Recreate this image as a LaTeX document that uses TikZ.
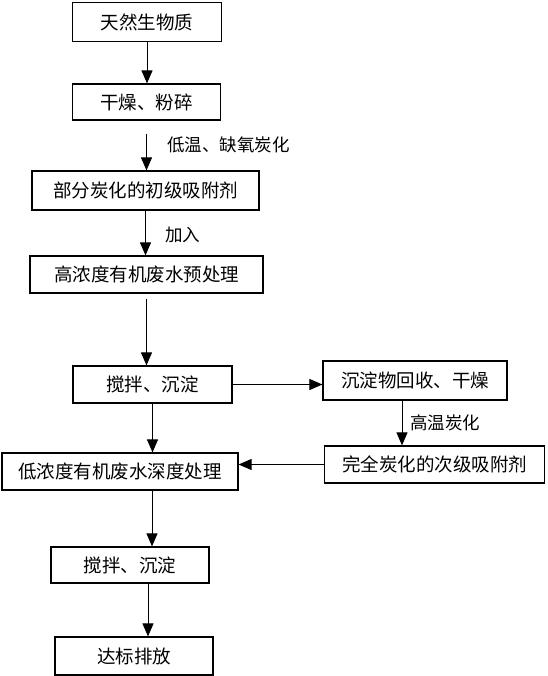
\documentclass[tikz,border=0pt]{standalone}
\usepackage{fontspec}
\newfontfamily\cjk{Noto Sans CJK SC}
\usetikzlibrary{arrows.meta}
\tikzset{
  box/.style={draw, line width=1.2pt, inner sep=0pt, font=\cjk\fontsize{18.5}{20}\selectfont},
  arr/.style={line width=1pt, -{Triangle[length=13pt,width=11pt]}},
  lbl/.style={anchor=west, inner sep=0pt, font=\cjk\fontsize{17.5}{20}\selectfont}
}
\begin{document}
\begin{tikzpicture}[x=1pt, y=-1pt]
            \useasboundingbox (0,0) rectangle (547,676);
            % Nodes
            \node[box, minimum width=149pt, minimum height=39pt] (n1) at (147, 22) {天然生物质};
            \node[box, minimum width=148pt, minimum height=36pt] (n2) at (146.5, 102) {干燥、粉碎};
            \node[box, minimum width=227pt, minimum height=39pt] (n3) at (145.5, 190.5) {部分炭化的初级吸附剂};
            \node[box, minimum width=233pt, minimum height=37pt] (n4) at (146.5, 274.5) {高浓度有机废水预处理};
            \node[box, minimum width=159pt, minimum height=37pt] (n5) at (152.5, 384.5) {搅拌、沉淀};
            \node[box, minimum width=184pt, minimum height=39pt] (n6) at (415, 380.5) {沉淀物回收、干燥};
            \node[box, minimum width=220pt, minimum height=37pt] (n7) at (434.5, 464.5) {完全炭化的次级吸附剂};
            \node[box, minimum width=236pt, minimum height=37pt] (n8) at (120, 471.5) {低浓度有机废水深度处理};
            \node[box, minimum width=158pt, minimum height=36pt] (n9) at (130, 565) {搅拌、沉淀};
            \node[box, minimum width=158pt, minimum height=38pt] (n10) at (134, 656) {达标排放};

            % Labels
            \node[lbl] (t1) at (167, 145) {低温、缺氧炭化};
            \node[lbl] (t2) at (165, 235) {加入};
            \node[lbl] (t3) at (410, 423) {高温炭化};

            % Edges
            \draw[arr] (n1.south) -- (n1.south |- n2.north);
            \draw[arr, shorten <=13pt] (n2.south) -- (n2.south |- n3.north);
            \draw[arr] (n3.south) -- (n3.south |- n4.north);
            \draw[arr, shorten <=5pt] (n4.south) -- (n4.south |- n5.north);
            \draw[arr] (n5.east) -- (n5.east -| n6.west);
            \draw[arr] ([xshift=-13pt]n6.south) -- ([xshift=-13pt]n6.south |- n7.north);
            \draw[arr] (n5.south) -- (n5.south |- n8.north);
            \draw[arr] (n7.west) -- (n7.west -| n8.east);
            \draw[arr] ([xshift=32pt]n8.south) -- ([xshift=32pt]n8.south |- n9.north);
            \draw[arr] ([xshift=18pt]n9.south) -- ([xshift=18pt]n9.south |- n10.north);
        \end{tikzpicture}
\end{document}
